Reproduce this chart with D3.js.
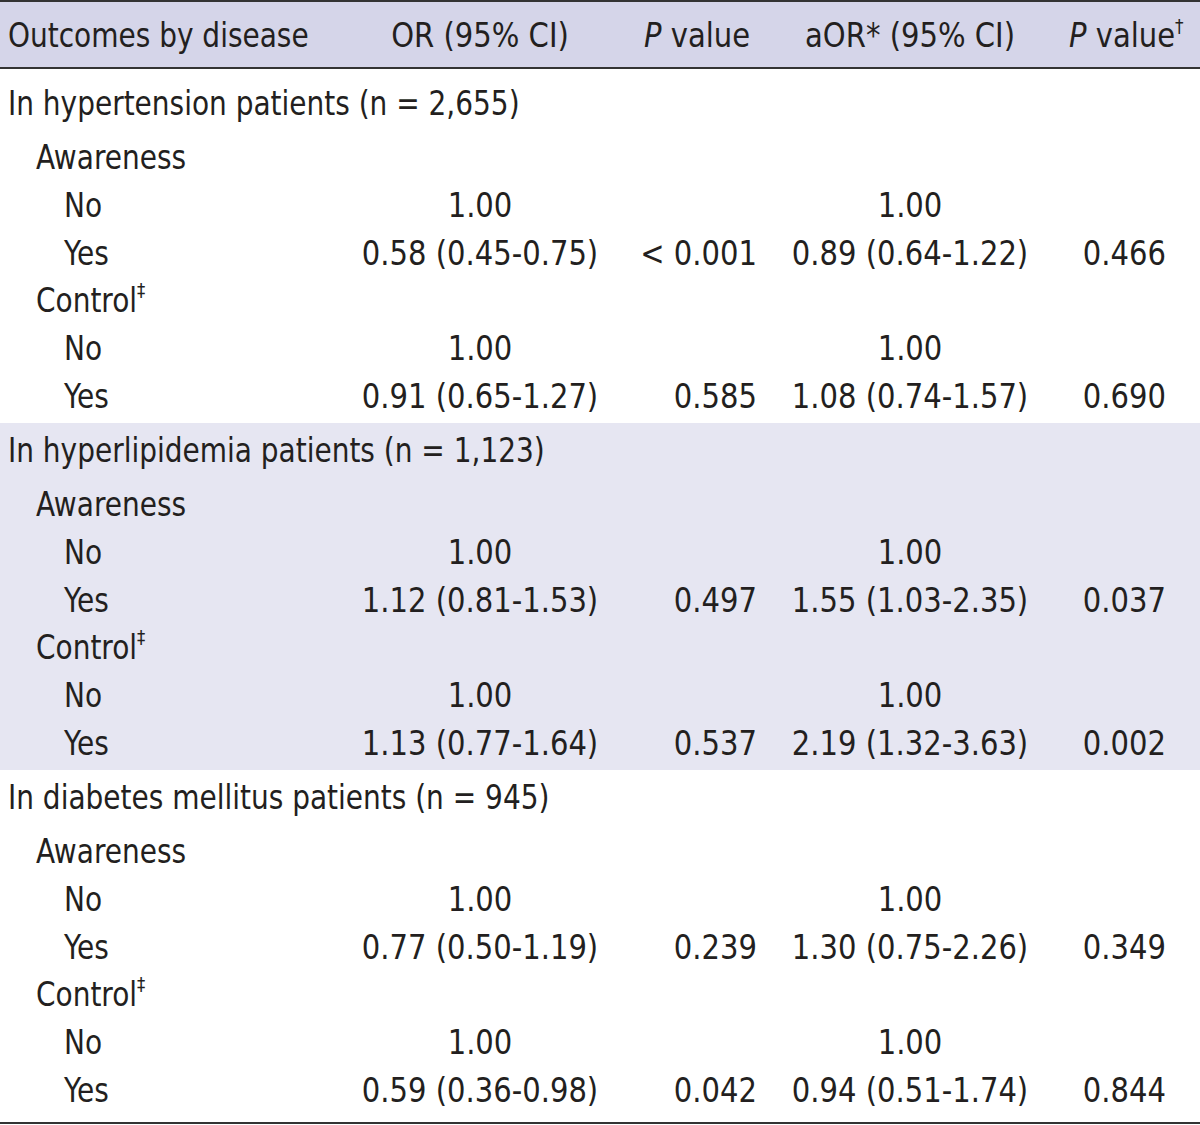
<!DOCTYPE html>
<html><head><meta charset="utf-8">
<script src="https://cdn.jsdelivr.net/npm/d3@7"></script>
<style>
html,body{margin:0;padding:0;background:#fff;}
svg text{font-family:"DejaVu Sans Condensed","Liberation Sans Narrow","Liberation Sans",sans-serif;fill:#231f20;}
</style></head>
<body><svg id="chart" width="1200" height="1125"></svg>
<script>
// ---- data ----
const columnHeaders = ["Outcomes by disease", "OR (95% CI)", "P value", "aOR* (95% CI)", "P value†"];
const groups = ["In hypertension patients (n = 2,655)", "In hyperlipidemia patients (n = 1,123)", "In diabetes mellitus patients (n = 945)"];
const outcomes = ["Awareness", "Control"];
const levels = ["No", "Yes"];
const referenceValue = "1.00";
// per group, per outcome: values for the "Yes" level
const orCI = [["0.58 (0.45-0.75)", "0.91 (0.65-1.27)"], ["1.12 (0.81-1.53)", "1.13 (0.77-1.64)"], ["0.77 (0.50-1.19)", "0.59 (0.36-0.98)"]];
const pValues = [["< 0.001", "0.585"], ["0.497", "0.537"], ["0.239", "0.042"]];
const aorCI = [["0.89 (0.64-1.22)", "1.08 (0.74-1.57)"], ["1.55 (1.03-2.35)", "2.19 (1.32-3.63)"], ["1.30 (0.75-2.26)", "0.94 (0.51-1.74)"]];
const pAdjValues = [["0.466", "0.690"], ["0.037", "0.002"], ["0.349", "0.844"]];

// ---- layout ----
const W = 1200, H = 1125, FS = 34, SX = 0.95, SXL = 0.915;
const svg = d3.select("#chart");
const headerH = 68;
const groupH = 347;
const groupY = d3.scaleLinear().domain([0, 1]).range([headerH + 8, headerH + 8 + groupH]);

// build rows
const rows = [];
groups.forEach((g, gi) => {
  const base = groupY(gi);
  rows.push({type: "group", text: g, y: base + 27});
  outcomes.forEach((o, oi) => {
    const ob = base + 27 + 54 + oi * 143;
    rows.push({type: "outcome", text: o, sup: oi === 1 ? "‡" : null, y: ob});
    levels.forEach((l, li) => {
      const isYes = li === 1;
      rows.push({type: "level", text: l, y: ob + 48 + li * 48,
        or: isYes ? orCI[gi][oi] : referenceValue,
        p: isYes ? pValues[gi][oi] : "",
        aor: isYes ? aorCI[gi][oi] : referenceValue,
        padj: isYes ? pAdjValues[gi][oi] : ""});
    });
  });
});

// backgrounds
svg.append("rect").attr("x", 0).attr("y", 0).attr("width", W).attr("height", headerH).attr("fill", "#d5d5e9");
svg.append("rect").attr("x", 0).attr("y", groupY(1)).attr("width", W).attr("height", groupH).attr("fill", "#e6e6f2");

// lines
[1, headerH, H - 2].forEach(y => {
  svg.append("line").attr("x1", 0).attr("x2", W).attr("y1", y).attr("y2", y)
    .attr("stroke", "#333").attr("stroke-width", 2);
});

function place(sel, x, anchor, sx) {
  return sel.attr("transform", `translate(${x},0) scale(${sx || SX},1)`)
    .attr("dy", "0.35em").attr("text-anchor", anchor || "start");
}

// header
const hy = 35;
const hdr = svg.append("g").attr("font-size", FS).attr("transform", `translate(0,${hy})`);
place(hdr.append("text"), 8, "start", SXL).text(columnHeaders[0]);
place(hdr.append("text"), 480, "middle").text(columnHeaders[1]);
const ph = place(hdr.append("text"), 697, "middle");
ph.append("tspan").attr("font-style", "italic").text("P");
ph.append("tspan").text(" value");
place(hdr.append("text"), 910, "middle").text(columnHeaders[3]);
const ph2 = place(hdr.append("text"), 1069);
ph2.append("tspan").attr("font-style", "italic").text("P");
ph2.append("tspan").text(" value");
ph2.append("tspan").attr("font-size", 20).attr("dy", "-0.7em").text("†");

// body
const body = svg.append("g").attr("font-size", FS);
const indent = {group: 8, outcome: 36, level: 64};
const rg = body.selectAll("g.row").data(rows).join("g").attr("class", "row")
  .attr("transform", d => `translate(0,${d.y})`);
rg.each(function(d) {
  const t = place(d3.select(this).append("text"), indent[d.type], "start", SXL);
  t.append("tspan").text(d.text);
  if (d.sup) t.append("tspan").attr("font-size", 20).attr("dy", "-0.75em").text(d.sup);
});

const lv = rg.filter(d => d.type === "level");
lv.each(function(d) {
  const g = d3.select(this);
  place(g.append("text"), 480, "middle").text(d.or);
  place(g.append("text"), 757, "end").text(d.p);
  place(g.append("text"), 910, "middle").text(d.aor);
  place(g.append("text"), 1166, "end").text(d.padj);
});
</script></body></html>
